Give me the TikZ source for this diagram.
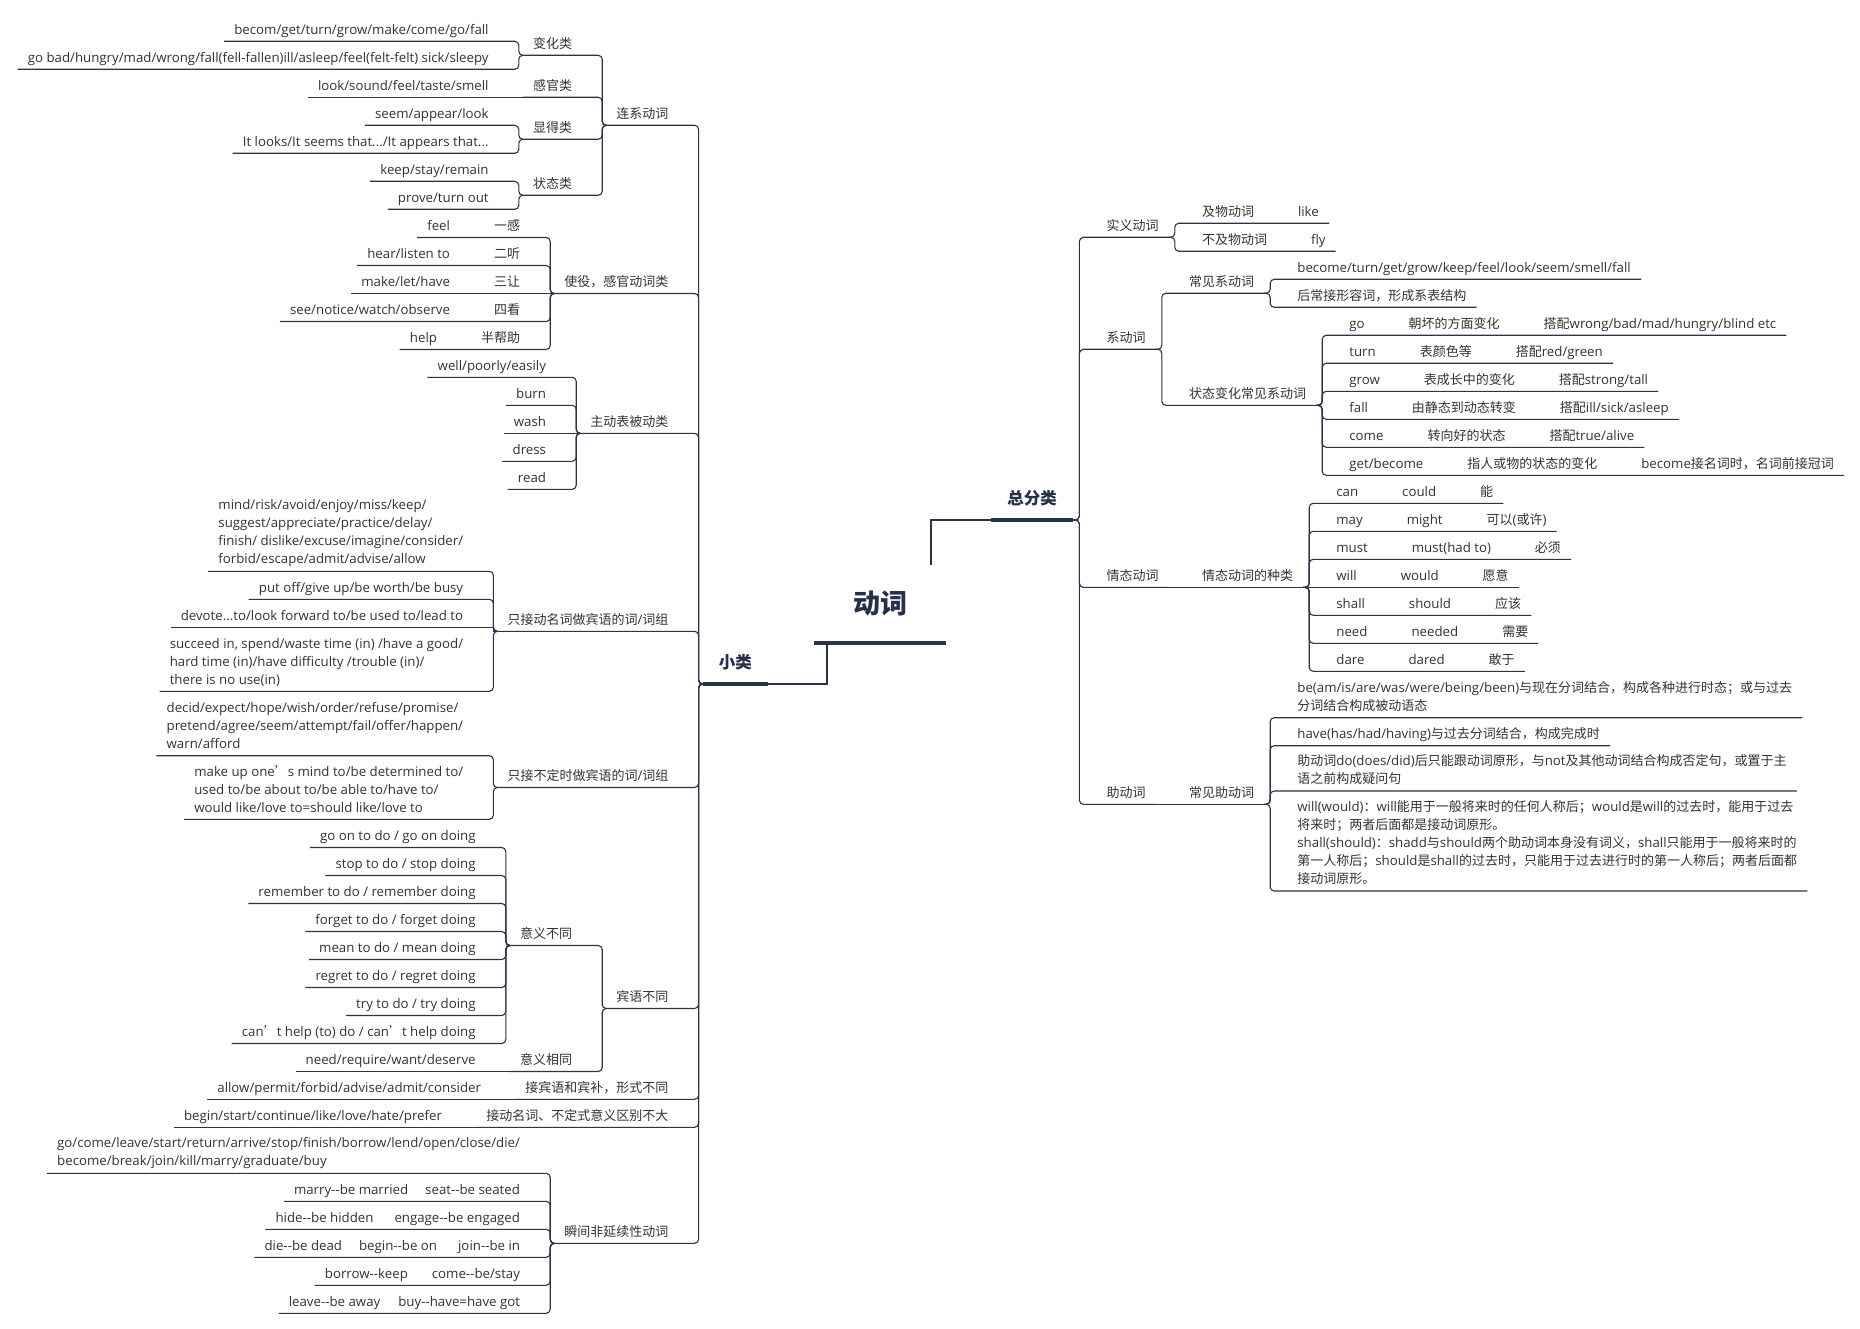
\documentclass[tikz,border=0pt]{standalone}
\usepackage{fontspec}
\setmainfont{Open Sans}[Scale=1.02]
\newfontfamily\latfont{Open Sans}[Scale=1.02]
\newfontfamily\zhfont{Noto Sans CJK SC}
% switch to the CJK face automatically for Han characters and full-width punctuation
\XeTeXinterchartokenstate=1
\newXeTeXintercharclass\zhclass
\newcount\zhcnt
\zhcnt="2E80
\loop
  \XeTeXcharclass\zhcnt=\zhclass
  \advance\zhcnt by 1
\ifnum\zhcnt<"A000 \repeat
\zhcnt="FF00
\loop
  \XeTeXcharclass\zhcnt=\zhclass
  \advance\zhcnt by 1
\ifnum\zhcnt<"FFF0 \repeat
\XeTeXcharclass"2019=\zhclass
\XeTeXinterchartoks 0 \zhclass={\zhfont}
\XeTeXinterchartoks 4095 \zhclass={\zhfont}
\XeTeXinterchartoks \zhclass 0={\latfont}
\XeTeXinterchartoks \zhclass 4095={\latfont}

\definecolor{lncol}{HTML}{2B3449}
\definecolor{txcol}{HTML}{333333}
\definecolor{ttcol}{HTML}{26304A}

% branch points and connectors of the logic-chart layout
\newcommand\brL[1]{\coordinate (#1-b) at ([xshift=-4pt]#1.south west);}
\newcommand\brR[1]{\coordinate (#1-b) at ([xshift=6pt]#1.south east);}
\newcommand\cnL[2]{\draw[ln,rounded corners=4pt] (#1.south west) -- (#2-b |- #1.south west) -- (#2-b) -- (#2.south west);}
\newcommand\cnR[2]{\draw[ln,rounded corners=4pt] (#1.south east) -- (#2-b |- #1.south east) -- (#2-b) -- (#2.south east);}
\newcommand\cnLsh[2]{\draw[ln] (#1.south west) -- (#2-b |- #1.south west) -- (#2-b) -- (#2.south west);}
\newcommand\stL[2]{\draw[ln] (#1.south west) -- (#2.south west);}
\newcommand\stR[2]{\draw[ln] (#1.south east) -- (#2.south east);}
\newcommand\gp{\hspace{44pt}}
\newcommand\ld{\rule[-3pt]{0pt}{3pt}}

\begin{document}
\begin{tikzpicture}[x=1pt,y=-1pt,
  ln/.style={draw=lncol,line width=1.1pt},
  bar/.style={draw=lncol,line width=4.5pt},
  tx/.style={inner xsep=10pt,inner ysep=4pt,text height=10pt,text depth=3pt,text=txcol,font=\fontsize{13}{18}\selectfont},
  mtx/.style={inner xsep=10pt,inner ysep=4pt,align=left,text=txcol,font=\fontsize{13}{18}\selectfont},
  lft/.style={anchor=south east,xshift=-20pt},
  rgt/.style={anchor=south west,xshift=17pt},
  rootn/.style={inner sep=0pt,minimum width=132pt,minimum height=78pt,text=ttcol,font=\fontsize{27}{32}\selectfont\bfseries},
  topn/.style={inner xsep=0pt,inner ysep=12pt,text height=13pt,text depth=3pt,text=ttcol,font=\fontsize{16.5}{20}\selectfont\bfseries}]
\fill[white] (0,0) rectangle (1860,1329);
\useasboundingbox (0,0) rectangle (1860,1329);

% central topic and the two main branches
\node[rootn,anchor=south] (root) at (880,643) {动词};
\draw[bar] (root.south west) -- (root.south east);
\node[topn,anchor=south west,minimum width=82pt] (zfl) at (991,520) {总分类};
\draw[bar] (zfl.south west) -- (zfl.south east);
\node[topn,anchor=south east,minimum width=65pt] (xl) at (768,684) {小类};
\draw[bar] (xl.south west) -- (xl.south east);
\draw[ln] ([xshift=51pt]root.north) |- (zfl.south west);
\draw[ln] ([xshift=-53pt]root.south) |- (xl.south east);
\brL{xl}
\brR{zfl}

% ---------- left side: 小类 ----------
\node[tx,lft] (lx) at (xl-b |- 0,125.3) {连系动词}; \brL{lx}
\node[tx,lft] (bh) at (lx-b |- 0,55.3) {变化类}; \brL{bh}
\node[tx,lft] (bh1) at (bh-b |- 0,41.3) {becom/get/turn/grow/make/come/go/fall};
\node[tx,lft] (bh2) at (bh-b |- 0,69.3) {go bad/hungry/mad/wrong/fall(fell-fallen)ill/asleep/feel(felt-felt) sick/sleepy};
\node[tx,lft] (gg) at (lx-b |- 0,97.3) {感官类}; \brL{gg}
\node[tx,lft] (gg1) at (gg-b |- 0,97.3) {look/sound/feel/taste/smell};
\node[tx,lft] (dx) at (lx-b |- 0,139.3) {显得类}; \brL{dx}
\node[tx,lft] (dx1) at (dx-b |- 0,125.3) {seem/appear/look};
\node[tx,lft] (dx2) at (dx-b |- 0,153.3) {It looks/It seems that.../It appears that...};
\node[tx,lft] (zt) at (lx-b |- 0,195.3) {状态类}; \brL{zt}
\node[tx,lft] (zt1) at (zt-b |- 0,181.3) {keep/stay/remain};
\node[tx,lft] (zt2) at (zt-b |- 0,209.3) {prove/turn out};
\cnL{lx}{xl} \cnL{bh}{lx} \cnL{gg}{lx} \cnL{dx}{lx} \cnL{zt}{lx}
\cnL{bh1}{bh} \cnL{bh2}{bh} \stL{gg1}{gg} \cnL{dx1}{dx} \cnL{dx2}{dx} \cnL{zt1}{zt} \cnL{zt2}{zt}

\node[tx,lft] (sy) at (xl-b |- 0,293.5) {使役，感官动词类}; \brL{sy}
\node[tx,lft] (sy1) at (sy-b |- 0,237.5) {feel\gp 一感};
\node[tx,lft] (sy2) at (sy-b |- 0,265.5) {hear/listen to\gp 二听};
\node[tx,lft] (sy3) at (sy-b |- 0,293.5) {make/let/have\gp 三让};
\node[tx,lft] (sy4) at (sy-b |- 0,321.5) {see/notice/watch/observe\gp 四看};
\node[tx,lft] (sy5) at (sy-b |- 0,349.5) {help\gp 半帮助};
\cnL{sy}{xl} \cnL{sy1}{sy} \cnL{sy2}{sy} \stL{sy3}{sy} \cnL{sy4}{sy} \cnL{sy5}{sy}

\node[tx,lft] (zd) at (xl-b |- 0,433.3) {主动表被动类}; \brL{zd}
\node[tx,lft] (zd1) at (zd-b |- 0,377.3) {well/poorly/easily};
\node[tx,lft] (zd2) at (zd-b |- 0,405.3) {burn};
\node[tx,lft] (zd3) at (zd-b |- 0,433.3) {wash};
\node[tx,lft] (zd4) at (zd-b |- 0,461.3) {dress};
\node[tx,lft] (zd5) at (zd-b |- 0,489.3) {read};
\cnL{zd}{xl} \cnL{zd1}{zd} \cnL{zd2}{zd} \stL{zd3}{zd} \cnL{zd4}{zd} \cnL{zd5}{zd}

\node[tx,lft] (dm) at (xl-b |- 0,631.3) {只接动名词做宾语的词/词组}; \brL{dm}
\node[mtx,lft] (dm1) at (dm-b |- 0,571.3) {mind/risk/avoid/enjoy/miss/keep/\\suggest/appreciate/practice/delay/\\finish/ dislike/excuse/imagine/consider/\\forbid/escape/admit/advise/allow\ld};
\node[tx,lft] (dm2) at (dm-b |- 0,599.3) {put off/give up/be worth/be busy};
\node[tx,lft] (dm3) at (dm-b |- 0,627.3) {devote...to/look forward to/be used to/lead to};
\node[mtx,lft] (dm4) at (dm-b |- 0,691.3) {succeed in, spend/waste time (in) /have a good/\\hard time (in)/have difficulty /trouble (in)/\\there is no use(in)\ld};
\cnL{dm}{xl} \cnL{dm1}{dm} \cnL{dm2}{dm} \cnLsh{dm3}{dm} \cnL{dm4}{dm}

\node[tx,lft] (bd) at (xl-b |- 0,787.5) {只接不定时做宾语的词/词组}; \brL{bd}
\node[mtx,lft] (bd1) at (bd-b |- 0,755.7) {decid/expect/hope/wish/order/refuse/promise/\\pretend/agree/seem/attempt/fail/offer/happen/\\warn/afford\ld};
\node[mtx,lft] (bd2) at (bd-b |- 0,819.3) {make up one’s mind to/be determined to/\\used to/be about to/be able to/have to/\\would like/love to=should like/love to\ld};
\cnL{bd}{xl} \cnL{bd1}{bd} \cnL{bd2}{bd}

\node[tx,lft] (by) at (xl-b |- 0,1008.5) {宾语不同}; \brL{by}
\node[tx,lft] (yb) at (by-b |- 0,945.5) {意义不同}; \brL{yb}
\node[tx,lft] (yb1) at (yb-b |- 0,847.5) {go on to do / go on doing};
\node[tx,lft] (yb2) at (yb-b |- 0,875.5) {stop to do / stop doing};
\node[tx,lft] (yb3) at (yb-b |- 0,903.5) {remember to do / remember doing};
\node[tx,lft] (yb4) at (yb-b |- 0,931.5) {forget to do / forget doing};
\node[tx,lft] (yb5) at (yb-b |- 0,959.5) {mean to do / mean doing};
\node[tx,lft] (yb6) at (yb-b |- 0,987.5) {regret to do / regret doing};
\node[tx,lft] (yb7) at (yb-b |- 0,1015.5) {try to do / try doing};
\node[tx,lft] (yb8) at (yb-b |- 0,1043.5) {can’t help (to) do / can’t help doing};
\node[tx,lft] (yx) at (by-b |- 0,1071.5) {意义相同}; \brL{yx}
\node[tx,lft] (yx1) at (yx-b |- 0,1071.5) {need/require/want/deserve};
\cnL{by}{xl} \cnL{yb}{by} \cnL{yx}{by} \stL{yx1}{yx}
\cnL{yb1}{yb} \cnL{yb2}{yb} \cnL{yb3}{yb} \cnL{yb4}{yb}
\cnL{yb5}{yb} \cnL{yb6}{yb} \cnL{yb7}{yb} \cnL{yb8}{yb}

\node[tx,lft] (jb) at (xl-b |- 0,1099.3) {接宾语和宾补，形式不同}; \brL{jb}
\node[tx,lft] (jb1) at (jb-b |- 0,1099.3) {allow/permit/forbid/advise/admit/consider};
\node[tx,lft] (jd) at (xl-b |- 0,1127.3) {接动名词、不定式意义区别不大}; \brL{jd}
\node[tx,lft] (jd1) at (jd-b |- 0,1127.3) {begin/start/continue/like/love/hate/prefer};
\cnL{jb}{xl} \stL{jb1}{jb} \cnL{jd}{xl} \stL{jd1}{jd}

\node[tx,lft] (sj) at (xl-b |- 0,1243.3) {瞬间非延续性动词}; \brL{sj}
\node[mtx,lft] (sj1) at (sj-b |- 0,1173.3) {go/come/leave/start/return/arrive/stop/finish/borrow/lend/open/close/die/\\become/break/join/kill/marry/graduate/buy\ld};
\node[tx,lft] (sj2) at (sj-b |- 0,1201.3) {marry-{}-be married\hspace{17pt}seat-{}-be seated};
\node[tx,lft] (sj3) at (sj-b |- 0,1229.3) {hide-{}-be hidden\hspace{21pt}engage-{}-be engaged};
\node[tx,lft] (sj4) at (sj-b |- 0,1257.3) {die-{}-be dead\hspace{17pt}begin-{}-be on\hspace{21pt}join-{}-be in};
\node[tx,lft] (sj5) at (sj-b |- 0,1285.3) {borrow-{}-keep\hspace{24pt}come-{}-be/stay};
\node[tx,lft] (sj6) at (sj-b |- 0,1313.3) {leave-{}-be away\hspace{18pt}buy-{}-have=have got};
\cnL{sj}{xl} \cnL{sj1}{sj} \cnL{sj2}{sj} \cnL{sj3}{sj} \cnL{sj4}{sj} \cnL{sj5}{sj} \cnL{sj6}{sj}

% ---------- right side: 总分类 ----------
\node[tx,rgt] (rs) at (zfl-b |- 0,237.3) {实义动词}; \brR{rs}
\node[tx,rgt] (rs1) at (rs-b |- 0,223.3) {及物动词\gp like};
\node[tx,rgt] (rs2) at (rs-b |- 0,251.3) {不及物动词\gp fly};
\cnR{rs}{zfl} \cnR{rs1}{rs} \cnR{rs2}{rs}

\node[tx,rgt] (rx) at (zfl-b |- 0,349.3) {系动词}; \brR{rx}
\node[tx,rgt] (cj) at (rx-b |- 0,293.3) {常见系动词}; \brR{cj}
\node[tx,rgt] (cj1) at (cj-b |- 0,279.3) {become/turn/get/grow/keep/feel/look/seem/smell/fall};
\node[tx,rgt] (cj2) at (cj-b |- 0,307.3) {后常接形容词，形成系表结构};
\node[tx,rgt] (zb) at (rx-b |- 0,405.3) {状态变化常见系动词}; \brR{zb}
\node[tx,rgt] (zb1) at (zb-b |- 0,335.3) {go\gp 朝坏的方面变化\gp 搭配wrong/bad/mad/hungry/blind etc};
\node[tx,rgt] (zb2) at (zb-b |- 0,363.3) {turn\gp 表颜色等\gp 搭配red/green};
\node[tx,rgt] (zb3) at (zb-b |- 0,391.3) {grow\gp 表成长中的变化\gp 搭配strong/tall};
\node[tx,rgt] (zb4) at (zb-b |- 0,419.3) {fall\gp 由静态到动态转变\gp 搭配ill/sick/asleep};
\node[tx,rgt] (zb5) at (zb-b |- 0,447.3) {come\gp 转向好的状态\gp 搭配true/alive};
\node[tx,rgt] (zb6) at (zb-b |- 0,475.3) {get/become\gp 指人或物的状态的变化\gp become接名词时，名词前接冠词};
\cnR{rx}{zfl} \cnR{cj}{rx} \cnR{zb}{rx} \cnR{cj1}{cj} \cnR{cj2}{cj}
\cnR{zb1}{zb} \cnR{zb2}{zb} \cnR{zb3}{zb} \cnR{zb4}{zb} \cnR{zb5}{zb} \cnR{zb6}{zb}

\node[tx,rgt] (qt) at (zfl-b |- 0,587.3) {情态动词}; \brR{qt}
\node[tx,rgt] (qz) at (qt-b |- 0,587.3) {情态动词的种类}; \brR{qz}
\node[tx,rgt] (qz1) at (qz-b |- 0,503.3) {can\gp could\gp 能};
\node[tx,rgt] (qz2) at (qz-b |- 0,531.3) {may\gp might\gp 可以(或许)};
\node[tx,rgt] (qz3) at (qz-b |- 0,559.3) {must\gp must(had to)\gp 必须};
\node[tx,rgt] (qz4) at (qz-b |- 0,587.3) {will\gp would\gp 愿意};
\node[tx,rgt] (qz5) at (qz-b |- 0,615.3) {shall\gp should\gp 应该};
\node[tx,rgt] (qz6) at (qz-b |- 0,643.3) {need\gp needed\gp 需要};
\node[tx,rgt] (qz7) at (qz-b |- 0,671.3) {dare\gp dared\gp 敢于};
\cnR{qt}{zfl} \stR{qz}{qt}
\cnR{qz1}{qz} \cnR{qz2}{qz} \cnR{qz3}{qz} \stR{qz4}{qz} \cnR{qz5}{qz} \cnR{qz6}{qz} \cnR{qz7}{qz}

\node[tx,rgt] (zh) at (zfl-b |- 0,804.3) {助动词}; \brR{zh}
\node[tx,rgt] (cz) at (zh-b |- 0,804.3) {常见助动词}; \brR{cz}
\node[mtx,rgt] (cz1) at (cz-b |- 0,717.7) {be(am/is/are/was/were/being/been)与现在分词结合，构成各种进行时态；或与过去\\分词结合构成被动语态\ld};
\node[tx,rgt] (cz2) at (cz-b |- 0,745.7) {have(has/had/having)与过去分词结合，构成完成时};
\node[mtx,rgt] (cz3) at (cz-b |- 0,791) {助动词do(does/did)后只能跟动词原形，与not及其他动词结合构成否定句，或置于主\\语之前构成疑问句\ld};
\node[mtx,rgt] (cz4) at (cz-b |- 0,891) {will(would)：will能用于一般将来时的任何人称后；would是will的过去时，能用于过去\\将来时；两者后面都是接动词原形。\\shall(should)：shadd与should两个助动词本身没有词义，shall只能用于一般将来时的\\第一人称后；should是shall的过去时，只能用于过去进行时的第一人称后；两者后面都\\接动词原形。\ld};
\cnR{zh}{zfl} \stR{cz}{zh}
\cnR{cz1}{cz} \cnR{cz2}{cz} \cnR{cz3}{cz} \cnR{cz4}{cz}
\end{tikzpicture}
\end{document}
